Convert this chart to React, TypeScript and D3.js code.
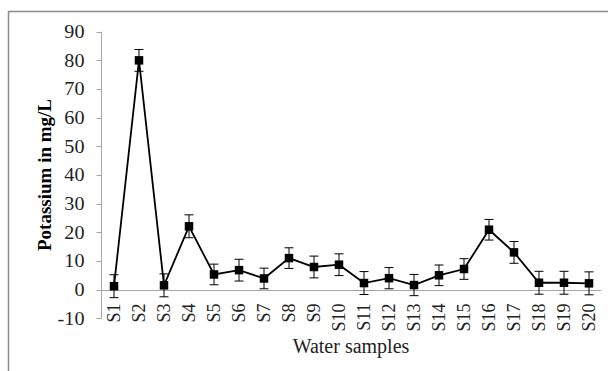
import React from "react";
import * as d3 from "d3";

const categories = ["S1","S2","S3","S4","S5","S6","S7","S8","S9","S10","S11","S12","S13","S14","S15","S16","S17","S18","S19","S20"];
const values = [1.2, 80, 1.5, 22.1, 5.3, 6.8, 3.9, 11.0, 7.9, 8.7, 2.3, 4.0, 1.6, 5.0, 7.2, 20.9, 13.0, 2.4, 2.4, 2.2];
const errors = [4, 3.8, 4, 4, 3.6, 3.8, 3.6, 3.6, 3.8, 3.8, 4, 3.7, 3.7, 3.6, 3.6, 3.6, 3.8, 4, 4, 4];
const yTicks = [-10, 0, 10, 20, 30, 40, 50, 60, 70, 80, 90];

export default function App() {
  const W = 608, H = 371;
  const x0 = 101.5, x1 = 601.5;
  const y = d3.scaleLinear().domain([-10, 90]).range([318.3, 31.7]);
  const x = d3.scaleBand().domain(categories).range([x0, x1]).padding(0);
  const cx = (c: string) => (x(c) as number) + x.bandwidth() / 2;
  const line = d3.line<number>().x((_, i) => cx(categories[i])).y((d) => y(d));
  const font = "'Liberation Serif', 'Times New Roman', serif";
  const axisColor = "#a6a6a6";
  return (
    <svg width={W} height={H} style={{ position: "absolute", left: 0, top: 0 }} fontFamily={font}>
      <rect x={0} y={0} width={W} height={H} fill="#fff" />
      <path d={`M8.5,${H + 2}V11.5H${W + 2}`} fill="none" stroke="#8c8c8c" strokeWidth={1.5} />
      {/* y axis */}
      <line x1={x0} x2={x0} y1={y(90)} y2={y(-10)} stroke={axisColor} strokeWidth={1} />
      {yTicks.map((t) => (
        <g key={t}>
          <line x1={x0 - 5} x2={x0} y1={Math.round(y(t)) + 0.5} y2={Math.round(y(t)) + 0.5} stroke={axisColor} strokeWidth={1} />
          <text transform={`translate(84.5,${y(t)}) scale(1.12,1)`} dy="0.35em" textAnchor="end" fontSize={18} fill="#222">{t}</text>
        </g>
      ))}
      {/* x axis at zero */}
      <line x1={x0} x2={x1} y1={Math.round(y(0)) + 0.5} y2={Math.round(y(0)) + 0.5} stroke={axisColor} strokeWidth={1} />
      {categories.map((c) => (
        <text key={c} transform={`translate(${cx(c)},303.5) rotate(-90)`} dy="0.35em" textAnchor="end" fontSize={18} fill="#222">{c}</text>
      ))}
      {/* error bars */}
      {values.map((v, i) => {
        const px = cx(categories[i]);
        const top = y(v + errors[i]);
        const bot = y(v - errors[i]);
        return (
          <g key={i} stroke="#000" strokeWidth={1}>
            <line x1={px} x2={px} y1={top} y2={bot} />
            <line x1={px - 4.5} x2={px + 4.5} y1={top} y2={top} />
            <line x1={px - 4.5} x2={px + 4.5} y1={bot} y2={bot} />
          </g>
        );
      })}
      <path d={line(values) || ""} fill="none" stroke="#000" strokeWidth={1.8} />
      {values.map((v, i) => (
        <rect key={i} x={cx(categories[i]) - 4.25} y={y(v) - 4.25} width={8.5} height={8.5} fill="#000" />
      ))}
      <text x={351} y={353} textAnchor="middle" fontSize={20} fill="#222">Water samples</text>
      <text transform="translate(44,175) rotate(-90)" dy="0.35em" textAnchor="middle" fontSize={19} fontWeight="bold" fill="#000">Potassium in mg/L</text>
    </svg>
  );
}
